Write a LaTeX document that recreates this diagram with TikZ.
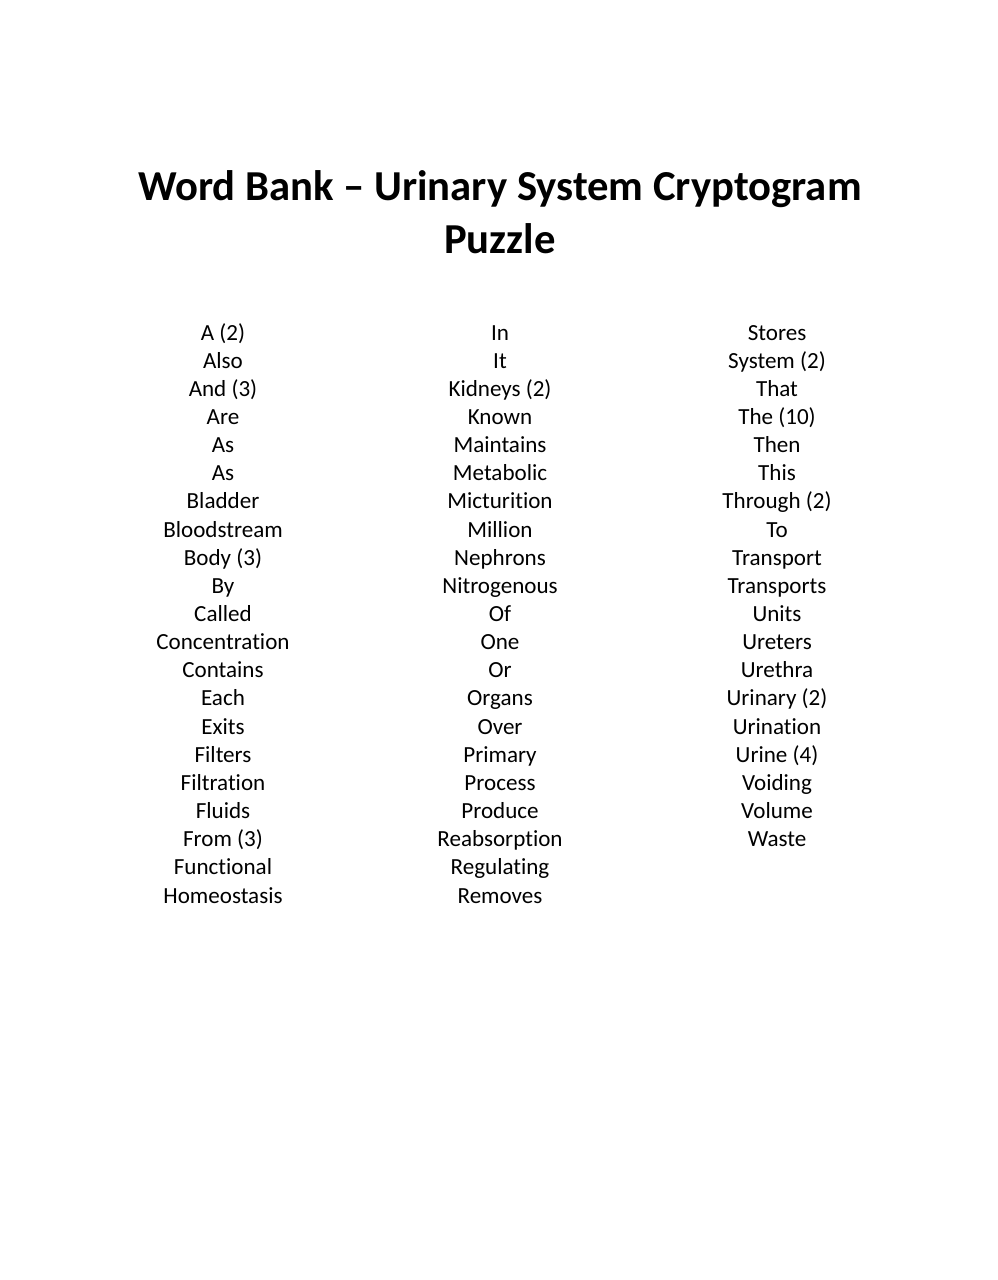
\documentclass[tikz,border=0pt]{standalone}
\usepackage{fontspec}
\setmainfont{Carlito}[Ligatures=NoCommon]
\begin{document}
\begin{tikzpicture}[x=0.75pt,y=-0.75pt,
  word/.style={anchor=base,font=\fontsize{17.3}{20}\selectfont,inner sep=0pt},
  ttl/.style={anchor=base,font=\fontsize{32}{38}\selectfont\bfseries,inner sep=0pt}]
\useasboundingbox (0,0) rectangle (998,1280);
\node[ttl] (t1) at (500,201) {Word Bank -- Urinary System Cryptogram};
\node[ttl] (t2) at (500,253) {Puzzle};
\foreach \w [count=\i from 0] in {A (2),Also,And (3),Are,As,As,Bladder,Bloodstream,Body (3),By,Called,Concentration,Contains,Each,Exits,Filters,Filtration,Fluids,From (3),Functional,Homeostasis}
  \node[word] (a\i) at (223,340+28.15*\i) {\w};
\foreach \w [count=\i from 0] in {In,It,Kidneys (2),Known,Maintains,Metabolic,Micturition,Million,Nephrons,Nitrogenous,Of,One,Or,Organs,Over,Primary,Process,Produce,Reabsorption,Regulating,Removes}
  \node[word] (b\i) at (500,340+28.15*\i) {\w};
\foreach \w [count=\i from 0] in {Stores,System (2),That,The (10),Then,This,Through (2),To,Transport,Transports,Units,Ureters,Urethra,Urinary (2),Urination,Urine (4),Voiding,Volume,Waste}
  \node[word] (c\i) at (777,340+28.15*\i) {\w};
\end{tikzpicture}
\end{document}
